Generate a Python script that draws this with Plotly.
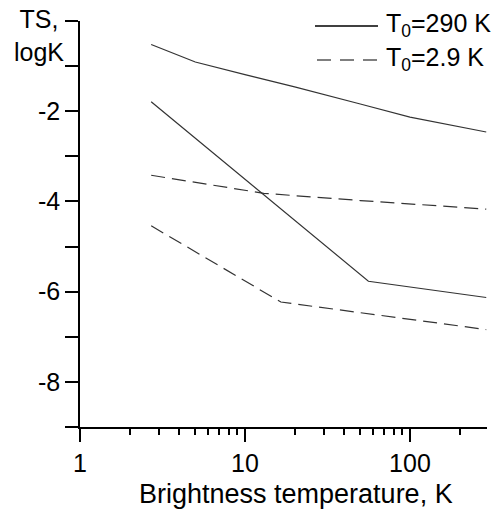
import plotly.graph_objects as go

# ---- data ----
t_290_upper = [2.7, 5, 10, 20, 50, 100, 290]
ts_290_upper = [-0.52, -0.91, -1.19, -1.46, -1.84, -2.13, -2.46]

t_290_lower = [2.7, 56, 290]
ts_290_lower = [-1.79, -5.77, -6.13]

t_29_upper = [2.7, 13, 50, 100, 290]
ts_29_upper = [-3.42, -3.82, -3.98, -4.06, -4.17]

t_29_lower = [2.7, 16.5, 290]
ts_29_lower = [-4.54, -6.23, -6.84]

x_major = [1, 10, 100]
x_major_text = ["1", "10", "100"]
x_minor = [2, 3, 4, 5, 6, 7, 8, 9, 20, 30, 40, 50, 60, 70, 80, 90, 200]
y_ticks = [-9, -8, -7, -6, -5, -4, -3, -2, -1, 0]
y_text = ["", "-8", "", "-6", "", "-4", "", "-2", "", ""]

legend_names = ["T<sub>0</sub>=290 K", "T<sub>0</sub>=2.9 K"]
x_title = "Brightness temperature, K"
y_title = "TS,<br>logK"

FONT = "Liberation Sans, Arial, sans-serif"
LC = "#333333"

fig = go.Figure()
fig.add_trace(go.Scatter(x=t_290_upper, y=ts_290_upper, mode="lines",
                         line=dict(color=LC, width=1.2), showlegend=False))
fig.add_trace(go.Scatter(x=t_290_lower, y=ts_290_lower, mode="lines",
                         line=dict(color=LC, width=1.2), showlegend=False))
fig.add_trace(go.Scatter(x=t_29_upper, y=ts_29_upper, mode="lines",
                         line=dict(color=LC, width=1.2, dash="14px,7px"), showlegend=False))
fig.add_trace(go.Scatter(x=t_29_lower, y=ts_29_lower, mode="lines",
                         line=dict(color=LC, width=1.2, dash="14px,7px"), showlegend=False))

L, R, T, B = 80, 8, 21, 83
W, H = 495, 510
pw, ph = W - L - R, H - T - B

def px(p):
    return (p - L) / pw

def py(q):
    return (H - B - q) / ph

# legend samples
fig.add_shape(type="line", xref="paper", yref="paper",
              x0=px(315), x1=px(378), y0=py(26), y1=py(26),
              line=dict(color="black", width=1.5))
fig.add_shape(type="line", xref="paper", yref="paper",
              x0=px(317), x1=px(378), y0=py(60), y1=py(60),
              line=dict(color="black", width=1.2, dash="14px,9px"))
for name, yy in zip(legend_names, [25, 59]):
    fig.add_annotation(xref="paper", yref="paper", x=px(384), y=py(yy),
                       text=name, showarrow=False, xanchor="left", yanchor="middle",
                       font=dict(family=FONT, size=25, color="black"))

fig.add_annotation(xref="paper", yref="paper", x=px(39), y=py(3),
                   text=y_title, showarrow=False, xanchor="center", yanchor="top",
                   align="center", font=dict(family=FONT, size=25, color="black"))

fig.add_annotation(xref="paper", yref="paper", x=px(296), y=py(494),
                   text=x_title, showarrow=False, xanchor="center", yanchor="middle",
                   font=dict(family=FONT, size=27, color="black"))

fig.update_layout(
    width=W, height=H,
    margin=dict(l=L, r=R, t=T, b=B, autoexpand=False),
    paper_bgcolor="white", plot_bgcolor="white",
    font=dict(family=FONT, size=25, color="black"),
    xaxis=dict(type="log", range=[0, 2.467], showgrid=False, zeroline=False,
               showline=True, linecolor="black", linewidth=1.5,
               tickmode="array", tickvals=x_major, ticktext=x_major_text,
               ticks="outside", ticklen=13, tickwidth=1.5, tickcolor="black",
               minor=dict(tickmode="array", tickvals=x_minor, ticks="outside",
                          ticklen=6, tickwidth=1.5, tickcolor="black", showgrid=False)),
    yaxis=dict(range=[-9, 0], showgrid=False, zeroline=False,
               showline=True, linecolor="black", linewidth=1.5,
               tickmode="array", tickvals=y_ticks, ticktext=y_text,
               ticks="outside", ticklen=13, tickwidth=1.5, tickcolor="black"),
)

fig.write_html("out.html")
